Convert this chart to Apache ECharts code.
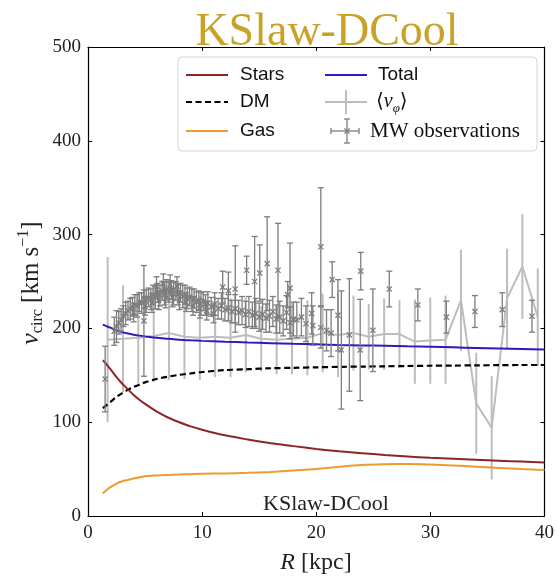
<!DOCTYPE html>
<html lang="en">
<head>
<meta charset="UTF-8">
<title>KSlaw-DCool rotation curve</title>
<script src="https://cdn.jsdelivr.net/npm/echarts@6/dist/echarts.min.js"></script>
<style>
  html, body { margin: 0; padding: 0; background: #fff; }
  #main { width: 557px; height: 578px; }
</style>
</head>
<body>
<div id="main"></div>
<script>
// model curves (R in kpc, v in km/s)
var modelR = [1.3, 1.6, 2, 2.5, 3, 3.5, 4, 4.5, 5, 6, 7, 8, 9, 10, 12, 14, 16, 18, 20, 22, 24, 26, 28, 30, 32, 34, 36, 38, 40];
var starsV = [166, 162, 156, 148, 141, 135, 129, 124, 119.5, 111.5, 105, 100, 95.5, 92, 86, 81.5, 77.5, 74.5, 71.5, 69, 67, 65, 63.5, 62, 61, 60, 59, 58, 57];
var dmV    = [115, 118, 122, 127, 131, 134.5, 137.5, 140, 142.5, 146, 148.5, 150.5, 152, 153.5, 155.5, 156.5, 157.5, 158, 158.5, 159, 159.3, 159.6, 159.9, 160.2, 160.4, 160.6, 160.8, 161, 161];
var gasV   = [24, 27.5, 31, 34.5, 37, 38.5, 40, 41.3, 42.5, 43.3, 43.8, 44.2, 44.6, 45, 45.4, 46, 47, 48.5, 50, 52.5, 54.5, 55.2, 55.4, 54.8, 53.8, 52.6, 51.3, 50, 49];
var totalV = [204, 202.5, 200.5, 198, 196, 194.5, 193.3, 192.3, 191.5, 190, 189, 188, 187.3, 186.7, 185.8, 185, 184.3, 183.6, 183, 182.4, 181.9, 181.4, 180.9, 180.4, 179.8, 179.2, 178.6, 178, 177.4];

// <v_phi> binned simulation curve with errors
var vphiR = [1.72, 3.07, 4.41, 5.76, 7.1, 8.45, 9.8, 11.14, 12.49, 13.83, 15.18, 16.53, 17.87, 19.22, 20.56, 21.91, 23.26, 24.6, 25.95, 27.29, 28.64, 29.99, 31.33, 32.68, 34.02, 35.37, 36.72, 38.06, 39.41];
var vphiV = [188, 189, 190, 192, 195, 191, 190, 191, 190, 193, 189, 188, 189, 190, 195, 193, 195, 191, 194, 194, 186, 187, 188, 230, 120, 94, 232, 266, 212];
var vphiE = [88, 57, 49, 49, 50, 45, 45, 43, 42, 40, 35, 37, 38, 40, 42, 45, 40, 35, 38, 36, 45, 46, 47, 54, 54, 55, 53, 56, 52];

// MW observations
var mwR = [
  1.5, 2.3, 2.5, 2.7, 2.9, 3.1, 3.3, 3.5, 3.7, 3.9,
  4.0, 4.1, 4.3, 4.5, 4.7, 4.9, 4.9, 5.0, 5.1, 5.3,
  5.5, 5.6, 5.7, 5.9, 6.0, 6.1, 6.2, 6.3, 6.5, 6.6,
  6.7, 6.8, 6.9, 7.1, 7.2, 7.3, 7.4, 7.5, 7.7, 7.8,
  7.9, 8.0, 8.1, 8.3, 8.5, 8.6, 8.7, 8.9, 9.1, 9.2,
  9.3, 9.5, 9.7, 9.8, 9.9, 10.1, 10.3, 10.4, 10.5, 10.8,
  11.0, 11.1, 11.4, 11.7, 11.8, 12.0, 12.3, 12.3, 12.6, 12.9,
  12.9, 13.2, 13.5, 13.8, 13.9, 14.1, 14.4, 14.6, 14.7, 15.0,
  15.05, 15.3, 15.6, 15.7, 15.9, 16.2, 16.5, 16.65, 16.8, 17.1,
  17.4, 17.5, 17.7, 17.7, 18.0, 18.3, 18.7, 19.1, 19.6, 19.7,
  20.4, 20.4, 20.9, 21.3, 21.4, 21.9, 22.2, 22.9, 23.85, 23.9,
  24.96, 26.4, 28.9, 31.4, 33.9, 36.3, 38.9
];
var mwV = [
  146, 197, 202, 206, 209, 213, 216, 219, 221, 223,
  217, 225, 224, 228, 227, 231, 208, 224, 229, 233,
  231, 227, 236, 233, 245, 238, 230, 235, 240, 248,
  237, 232, 242, 239, 247, 241, 233, 237, 240, 245,
  236, 230, 238, 234, 236, 228, 232, 234, 230, 224,
  232, 228, 230, 221, 226, 229, 225, 219, 227, 223,
  216, 226, 221, 224, 244, 220, 222, 240, 218, 221,
  242, 217, 219, 215, 262, 218, 214, 250, 216, 212,
  259, 215, 211, 269, 213, 218, 210, 262, 212, 208,
  217, 236, 206, 243, 210, 209, 212, 205, 216, 203,
  287, 201, 198, 195, 252, 214, 177, 193, 177, 261,
  198, 242, 225, 212, 218, 220, 213
];
var mwE = [
  35, 15, 17, 12, 12, 11, 12, 10, 11, 10,
  10, 11, 12, 10, 11, 10, 59, 10, 12, 10,
  11, 10, 10, 12, 10, 10, 10, 11, 10, 10,
  12, 10, 10, 11, 10, 10, 10, 12, 10, 10,
  11, 10, 10, 12, 10, 10, 11, 10, 12, 10,
  10, 11, 10, 10, 12, 10, 11, 10, 12, 10,
  10, 12, 11, 14, 17, 12, 14, 20, 12, 15,
  46, 13, 15, 14, 15, 16, 14, 48, 16, 15,
  30, 16, 15, 50, 17, 16, 15, 50, 17, 16,
  18, 14, 17, 48, 18, 19, 20, 19, 22, 21,
  63, 22, 22, 25, 19, 38, 63, 60, 54, 20,
  44, 19, 17, 17, 17, 18, 17
];

var xTicks = [0, 10, 20, 30, 40];
var yTicks = [0, 100, 200, 300, 400, 500];

var cStars = '#8c2626', cDM = '#000000', cGas = '#f09a2c', cTotal = '#2c1cc0';
var cVphi = '#bdbdbd', cMW = '#7d7d7d';
var serif = '"Liberation Serif", "DejaVu Serif", serif';
var sans = '"Liberation Sans", Arial, sans-serif';

function pairs(xs, ys) {
  return xs.map(function (x, i) { return [x, ys[i]]; });
}

var chart = echarts.init(document.getElementById('main'));

function renderVphiBar(params, api) {
  var r = api.value(0), v = api.value(1), e = api.value(2);
  var top = api.coord([r, v + e]);
  var bot = api.coord([r, v - e]);
  return {
    type: 'line',
    shape: { x1: top[0], y1: top[1], x2: bot[0], y2: bot[1] },
    style: { stroke: cVphi, lineWidth: 2 }
  };
}

function renderMW(params, api) {
  var r = api.value(0), v = api.value(1), e = api.value(2);
  var c = api.coord([r, v]);
  var top = api.coord([r, v + e]);
  var bot = api.coord([r, v - e]);
  var cap = 3, m = 2.6;
  var st = { stroke: cMW, lineWidth: 1.3 };
  return {
    type: 'group',
    children: [
      { type: 'line', shape: { x1: c[0], y1: top[1], x2: c[0], y2: bot[1] }, style: st },
      { type: 'line', shape: { x1: c[0] - cap, y1: top[1], x2: c[0] + cap, y2: top[1] }, style: st },
      { type: 'line', shape: { x1: c[0] - cap, y1: bot[1], x2: c[0] + cap, y2: bot[1] }, style: st },
      { type: 'line', shape: { x1: c[0] - m, y1: c[1] - m, x2: c[0] + m, y2: c[1] + m }, style: st },
      { type: 'line', shape: { x1: c[0] - m, y1: c[1] + m, x2: c[0] + m, y2: c[1] - m }, style: st }
    ]
  };
}

var axisCommon = {
  axisLine: { show: true, onZero: false, lineStyle: { color: '#000', width: 1.2 } },
  axisTick: { show: true, inside: true, length: 4, lineStyle: { color: '#000', width: 1 } },
  splitLine: { show: false }
};

function makeX(pos, showLabel) {
  return Object.assign({
    type: 'value', position: pos, min: xTicks[0], max: xTicks[xTicks.length - 1], interval: 10,
    axisLabel: { show: showLabel, color: '#222', fontFamily: serif, fontSize: 19, margin: 8 }
  }, axisCommon);
}
function makeY(pos, showLabel) {
  return Object.assign({
    type: 'value', position: pos, min: yTicks[0], max: yTicks[yTicks.length - 1], interval: 100,
    axisLabel: { show: showLabel, color: '#222', fontFamily: serif, fontSize: 19, margin: 7 }
  }, axisCommon);
}

// legend drawn by hand to match the boxed two-column layout
var lgX1 = 186, lgX2 = 325, lgLen = 42, rows = [75, 102, 131];
function lgLine(x, y, color, dash) {
  return { type: 'line', z: 101, shape: { x1: x, y1: y, x2: x + lgLen, y2: y },
           style: { stroke: color, lineWidth: 2, lineDash: dash || null } };
}
function lgText(x, y, text, font) {
  return { type: 'text', z: 101, x: x, y: y,
           style: { text: text, font: font, fill: '#111', textVerticalAlign: 'middle', verticalAlign: 'middle' } };
}
var mx = lgX2 + 22, my = rows[2];
var legendGraphic = [
  { type: 'rect', z: 100, shape: { x: 178, y: 57, width: 359, height: 94, r: 4 },
    style: { fill: 'rgba(255,255,255,0.85)', stroke: '#d6d6d6', lineWidth: 1 } },
  lgLine(lgX1, rows[0], cStars), lgText(240, rows[0], 'Stars', '19px ' + sans),
  lgLine(lgX1, rows[1], cDM, [6, 3.5]), lgText(240, rows[1], 'DM', '19px ' + sans),
  lgLine(lgX1, rows[2], cGas), lgText(240, rows[2], 'Gas', '19px ' + sans),
  lgLine(lgX2, rows[0], cTotal), lgText(378, rows[0], 'Total', '19px ' + sans),
  lgLine(lgX2, rows[1], cVphi),
  { type: 'line', z: 101, shape: { x1: lgX2 + 21, y1: rows[1] - 12, x2: lgX2 + 21, y2: rows[1] + 12 },
    style: { stroke: cVphi, lineWidth: 2 } },
  { type: 'text', z: 101, x: 376, y: rows[1],
    style: { text: '\u27e8{i|v}{s|\u03c6}\u27e9', font: '20px ' + serif, fill: '#111',
             textVerticalAlign: 'middle', verticalAlign: 'middle',
             rich: { i: { fontFamily: serif, fontStyle: 'italic', fontSize: 20, fill: '#111' },
                     s: { fontFamily: serif, fontStyle: 'italic', fontSize: 13, fill: '#111', verticalAlign: 'bottom', lineHeight: 26 } } } },
  { type: 'line', z: 101, shape: { x1: mx - 16, y1: my, x2: mx + 12, y2: my }, style: { stroke: cMW, lineWidth: 1.3 } },
  { type: 'line', z: 101, shape: { x1: mx - 16, y1: my - 3, x2: mx - 16, y2: my + 3 }, style: { stroke: cMW, lineWidth: 1.3 } },
  { type: 'line', z: 101, shape: { x1: mx + 12, y1: my - 3, x2: mx + 12, y2: my + 3 }, style: { stroke: cMW, lineWidth: 1.3 } },
  { type: 'line', z: 101, shape: { x1: mx, y1: my - 12, x2: mx, y2: my + 12 }, style: { stroke: cMW, lineWidth: 1.3 } },
  { type: 'line', z: 101, shape: { x1: mx - 3, y1: my - 12, x2: mx + 3, y2: my - 12 }, style: { stroke: cMW, lineWidth: 1.3 } },
  { type: 'line', z: 101, shape: { x1: mx - 3, y1: my + 12, x2: mx + 3, y2: my + 12 }, style: { stroke: cMW, lineWidth: 1.3 } },
  { type: 'line', z: 101, shape: { x1: mx - 2.6, y1: my - 2.6, x2: mx + 2.6, y2: my + 2.6 }, style: { stroke: cMW, lineWidth: 1.3 } },
  { type: 'line', z: 101, shape: { x1: mx - 2.6, y1: my + 2.6, x2: mx + 2.6, y2: my - 2.6 }, style: { stroke: cMW, lineWidth: 1.3 } },
  lgText(370, rows[2], 'MW observations', '21px ' + serif)
];

var textGraphic = [
  { type: 'text', z: 90, x: 327, y: 33,
    style: { text: 'KSlaw-DCool', font: '46px ' + serif, fill: '#c9a227',
             textAlign: 'center', align: 'center', textVerticalAlign: 'middle', verticalAlign: 'middle' } },
  { type: 'text', z: 90, x: 326, y: 504,
    style: { text: 'KSlaw-DCool', font: '22px ' + serif, fill: '#222',
             textAlign: 'center', align: 'center', textVerticalAlign: 'middle', verticalAlign: 'middle' } },
  { type: 'text', z: 90, x: 316, y: 563,
    style: { text: '{i|R} [kpc]', font: '24px ' + serif, fill: '#222',
             textAlign: 'center', align: 'center', textVerticalAlign: 'middle', verticalAlign: 'middle',
             rich: { i: { fontFamily: serif, fontStyle: 'italic', fontSize: 24, fill: '#222' } } } },
  { type: 'text', z: 90, x: 31, y: 283, rotation: Math.PI / 2,
    style: { text: '{i|v}{s|circ} [km s{p|\u22121}]', font: '25px ' + serif, fill: '#222',
             textAlign: 'center', align: 'center', textVerticalAlign: 'middle', verticalAlign: 'middle',
             rich: {
               i: { fontFamily: serif, fontStyle: 'italic', fontSize: 26, fill: '#222', lineHeight: 30 },
               s: { fontFamily: serif, fontSize: 16, fill: '#222', verticalAlign: 'bottom', lineHeight: 30 },
               p: { fontFamily: serif, fontSize: 16, fill: '#222', verticalAlign: 'top', lineHeight: 30 }
             } } }
];

var option = {
  animation: false,
  backgroundColor: '#fff',
  grid: { left: 88, right: 12, top: 47, bottom: 62, containLabel: false },
  xAxis: [makeX('bottom', true), makeX('top', false)],
  yAxis: [makeY('left', true), makeY('right', false)],
  series: [
    {
      name: 'vphi bars', type: 'custom', renderItem: renderVphiBar, z: 1,
      encode: { x: 0, y: 1 },
      data: vphiR.map(function (r, i) { return [r, vphiV[i], vphiE[i]]; })
    },
    {
      name: '<vphi>', type: 'line', z: 1, symbol: 'none', smooth: false,
      lineStyle: { color: cVphi, width: 2 }, data: pairs(vphiR, vphiV)
    },
    {
      name: 'DM', type: 'line', z: 2, symbol: 'none', smooth: 0.3,
      lineStyle: { color: cDM, width: 2.2, type: [6, 3.5] }, data: pairs(modelR, dmV)
    },
    {
      name: 'Stars', type: 'line', z: 2, symbol: 'none', smooth: 0.3,
      lineStyle: { color: cStars, width: 2 }, data: pairs(modelR, starsV)
    },
    {
      name: 'Gas', type: 'line', z: 2, symbol: 'none', smooth: 0.3,
      lineStyle: { color: cGas, width: 2 }, data: pairs(modelR, gasV)
    },
    {
      name: 'Total', type: 'line', z: 2, symbol: 'none', smooth: 0.3,
      lineStyle: { color: cTotal, width: 2 }, data: pairs(modelR, totalV)
    },
    {
      name: 'MW observations', type: 'custom', renderItem: renderMW, z: 3,
      encode: { x: 0, y: 1 },
      data: mwR.map(function (r, i) { return [r, mwV[i], mwE[i]]; })
    }
  ],
  graphic: textGraphic.concat(legendGraphic)
};

chart.setOption(option);
</script>
</body>
</html>
